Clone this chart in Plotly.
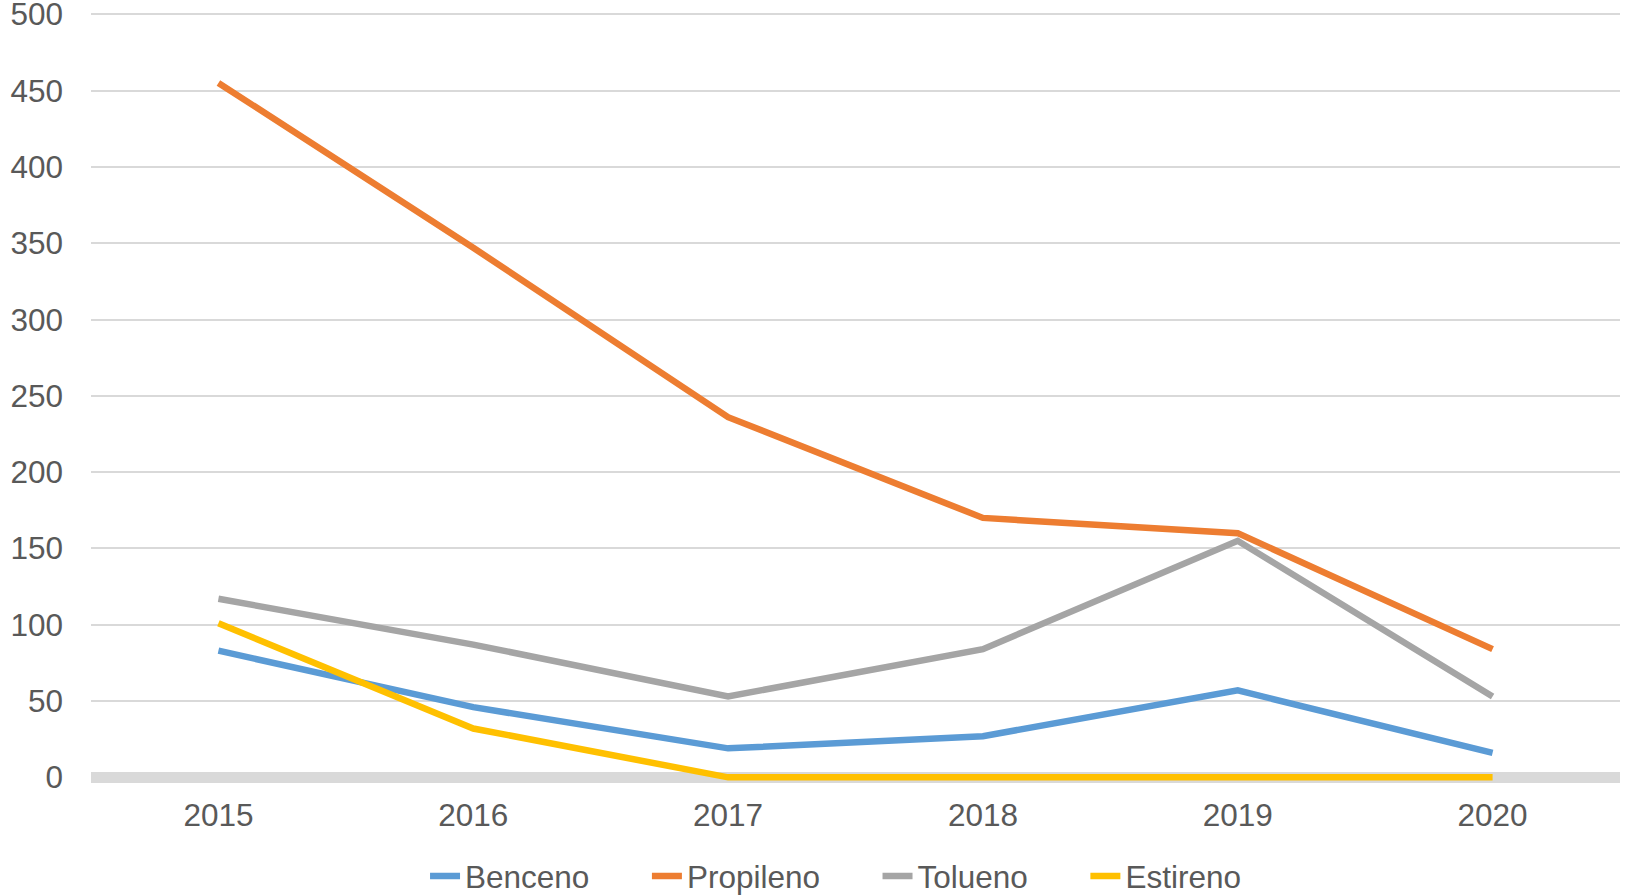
import plotly.graph_objects as go

years = ["2015", "2016", "2017", "2018", "2019", "2020"]
benceno = [83, 46, 19, 27, 57, 16]
propileno = [455, 347, 236, 170, 160, 84]
tolueno = [117, 87, 53, 84, 155, 53]
estireno = [101, 32, 0, 0, 0, 0]

names = ["Benceno", "Propileno", "Tolueno", "Estireno"]
colors = ["#5B9BD5", "#ED7D31", "#A5A5A5", "#FFC000"]
values = [benceno, propileno, tolueno, estireno]

PAD = "\u00a0" * 6

fig = go.Figure()
for i, (name, vals, color) in enumerate(zip(names, values, colors)):
    label = name + (PAD if i < len(names) - 1 else "")
    fig.add_trace(go.Scatter(
        x=years, y=vals, name=label, mode="lines",
        line=dict(color=color, width=6.5),
    ))

font_family = "Liberation Sans, Arial, sans-serif"
FS = 31.5
fig.update_layout(
    width=1631, height=896,
    margin=dict(l=91, r=11, t=8, b=113, autoexpand=False),
    paper_bgcolor="white", plot_bgcolor="white",
    font=dict(family=font_family, size=FS, color="#595959"),
    showlegend=True,
    legend=dict(
        orientation="h", xref="container", yref="container",
        x=0.2606, xanchor="left", y=0.0223, yanchor="middle",
        font=dict(size=FS, color="#595959"),
        itemwidth=30, tracegroupgap=0,
    ),
    xaxis=dict(
        type="category", range=[-0.5, 5.5], automargin=False,
        showgrid=False, showline=False, zeroline=False,
        ticks="", ticklabelstandoff=10,
        tickfont=dict(size=FS, color="#595959"),
    ),
    yaxis=dict(
        range=[-3.7, 504.1], automargin=False,
        tickvals=[0, 50, 100, 150, 200, 250, 300, 350, 400, 450, 500],
        showgrid=True, gridcolor="#D9D9D9", gridwidth=1.5,
        zeroline=True, zerolinecolor="#D9D9D9", zerolinewidth=11,
        showline=False, ticks="", ticklabelstandoff=27,
        ticklabeloverflow="allow",
        tickfont=dict(size=FS, color="#595959"),
    ),
)

fig.write_html(
    "out.html",
    config={"displayModeBar": False},
    post_script="document.body.style.margin='0';",
)
